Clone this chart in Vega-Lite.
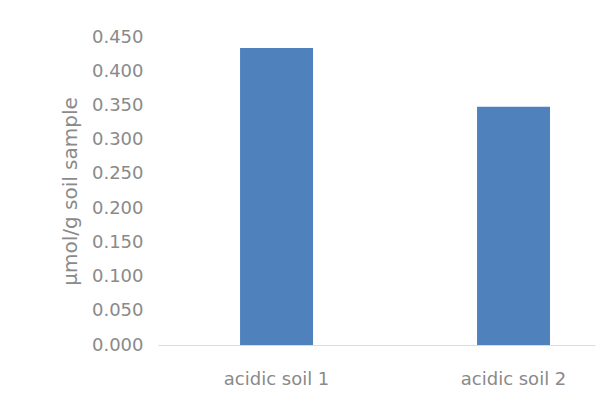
{
  "$schema": "https://vega.github.io/schema/vega-lite/v6.json",
  "autosize": {"type": "none"},
  "padding": {"left": 158, "top": 37, "right": 6, "bottom": 60},
  "width": 437,
  "height": 308,
  "background": "white",
  "config": {"view": {"stroke": null}, "font": "DejaVu Sans"},
  "data": {"values": [
    {"sample": "acidic soil 1", "value": 0.434},
    {"sample": "acidic soil 2", "value": 0.348}
  ]},
  "mark": {"type": "bar", "color": "#4F81BD"},
  "encoding": {
    "x": {
      "field": "sample", "type": "nominal", "sort": null,
      "scale": {"paddingInner": 0.692, "paddingOuter": 0.268, "align": 0.646},
      "axis": {"title": null, "labelAngle": 0, "ticks": false, "domainColor": "#dcdcdc", "labelColor": "#8a8a8a", "labelFontSize": 18, "labelPadding": 25, "labelFont": "DejaVu Sans"}
    },
    "y": {
      "field": "value", "type": "quantitative",
      "scale": {"domain": [0, 0.45]},
      "axis": {"title": "µmol/g soil sample", "format": ".3f", "values": [0, 0.05, 0.1, 0.15, 0.2, 0.25, 0.3, 0.35, 0.4, 0.45], "grid": false, "domain": false, "ticks": false, "labelColor": "#8a8a8a", "labelFontSize": 18, "labelPadding": 15, "labelFont": "DejaVu Sans", "titleColor": "#8a8a8a", "titleFontSize": 20, "titleFontWeight": "normal", "titleFont": "DejaVu Sans", "titlePadding": 11}
    }
  }
}
